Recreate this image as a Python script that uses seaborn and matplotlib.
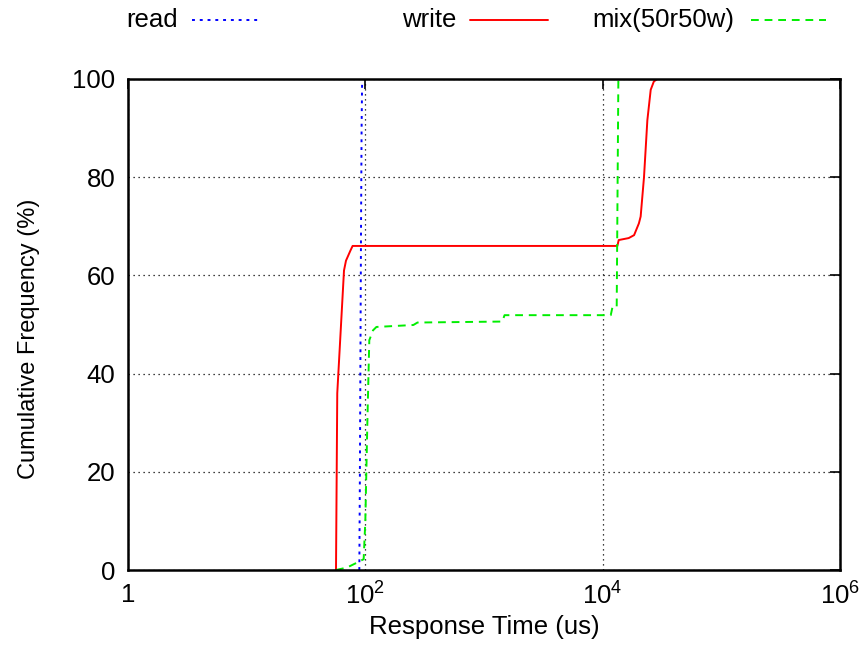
import numpy as np
import pandas as pd
import matplotlib
matplotlib.use("Agg")
import matplotlib.pyplot as plt
from matplotlib.lines import Line2D
import seaborn as sns

# Response-time CDFs (microseconds, cumulative percent)
read_us = [89, 90, 91, 92, 93, 94]
read_pct = [0, 20, 45, 70, 90, 100]

write_us = [56.6, 58, 66.1, 68.7, 74.7, 78.1, 13300, 13650, 16570, 18400,
            20200, 20900, 22300, 23800, 25400, 27000, 28900, 40000]
write_pct = [0, 36, 61, 63, 65, 66, 66, 67.2, 67.6, 68.2,
             70.6, 72, 80, 91.6, 97.8, 99.5, 100, 100]

mix_us = [56.6, 70, 85.1, 96.8, 100, 104, 108, 116, 124, 254, 275,
          1426, 1490, 11700, 12080, 13130, 13560, 40000]
mix_pct = [0, 0.5, 1.5, 2.2, 10, 30, 46.8, 48.8, 49.5, 49.9, 50.4,
           50.6, 51.9, 51.9, 53.5, 53.5, 100, 100]

series_names = ["read", "write", "mix(50r50w)"]
series_colors = {"read": "#0000ff", "write": "#ff0000", "mix(50r50w)": "#00ee00"}
series_dashes = {"read": (1.5, 2.5), "write": "", "mix(50r50w)": (4, 3)}

x_ticks = [1, 1e2, 1e4, 1e6]
x_tick_labels = ["1", r"$10^{2}$", r"$10^{4}$", r"$10^{6}$"]
y_ticks = [0, 20, 40, 60, 80, 100]

df = pd.concat([
    pd.DataFrame({"time": read_us, "pct": read_pct, "kind": "read"}),
    pd.DataFrame({"time": write_us, "pct": write_pct, "kind": "write"}),
    pd.DataFrame({"time": mix_us, "pct": mix_pct, "kind": "mix(50r50w)"}),
], ignore_index=True)

sns.set_style("white")
plt.rcParams["font.family"] = ["Liberation Sans", "DejaVu Sans"]
plt.rcParams["mathtext.fontset"] = "custom"
plt.rcParams["mathtext.rm"] = "Liberation Sans"
plt.rcParams["mathtext.it"] = "Liberation Sans"
plt.rcParams["mathtext.default"] = "regular"
plt.rcParams["text.color"] = "black"
plt.rcParams["axes.labelcolor"] = "black"

FS = 18.5

fig = plt.figure(figsize=(8.65, 6.54), dpi=100)
ax = fig.add_axes([128 / 865, 84 / 654, (840 - 128) / 865, (570 - 79) / 654])

for name in series_names:
    sub = df[df["kind"] == name]
    sns.lineplot(data=sub, x="time", y="pct", ax=ax, sort=False, estimator=None,
                 color=series_colors[name], linewidth=1.4, legend=False)
    ln = ax.get_lines()[-1]
    if series_dashes[name]:
        ln.set_dashes(series_dashes[name])

ax.set_xscale("log")
ax.set_xlim(1, 1e6)
ax.set_ylim(0, 100)
ax.set_xticks(x_ticks)
ax.set_xticklabels(x_tick_labels)
ax.xaxis.set_minor_locator(matplotlib.ticker.NullLocator())
ax.set_yticks(y_ticks)

ax.grid(True, which="major", color="black", linestyle=(0, (1, 3)), linewidth=0.9)
ax.tick_params(direction="in", length=7, width=1.2, labelsize=FS, colors="black",
               top=True, right=True)
ax.tick_params(axis="y", pad=9)
ax.tick_params(axis="x", pad=9)
for s in ax.spines.values():
    s.set_linewidth(1.8)
    s.set_color("black")

ax.set_xlabel("Response Time (us)", fontsize=FS, labelpad=4)
ax.set_ylabel("Cumulative Frequency (%)", fontsize=17)
ax.yaxis.set_label_coords(-0.123, 0.47)

# Key row above the plot: label, then line sample
key_y = 1 - 20 / 654
key_items = [("read", 178, 192, 262), ("write", 456, 470, 548), ("mix(50r50w)", 734, 751, 826)]
for name, txt_right, l0, l1 in key_items:
    fig.text(txt_right / 865, key_y, name, ha="right", va="center", fontsize=FS)
    h = Line2D([l0 / 865, l1 / 865], [key_y, key_y], transform=fig.transFigure,
               color=series_colors[name], linewidth=1.4)
    if series_dashes[name]:
        h.set_dashes(series_dashes[name])
    fig.add_artist(h)

fig.savefig("out.png", dpi=100, facecolor="white")
